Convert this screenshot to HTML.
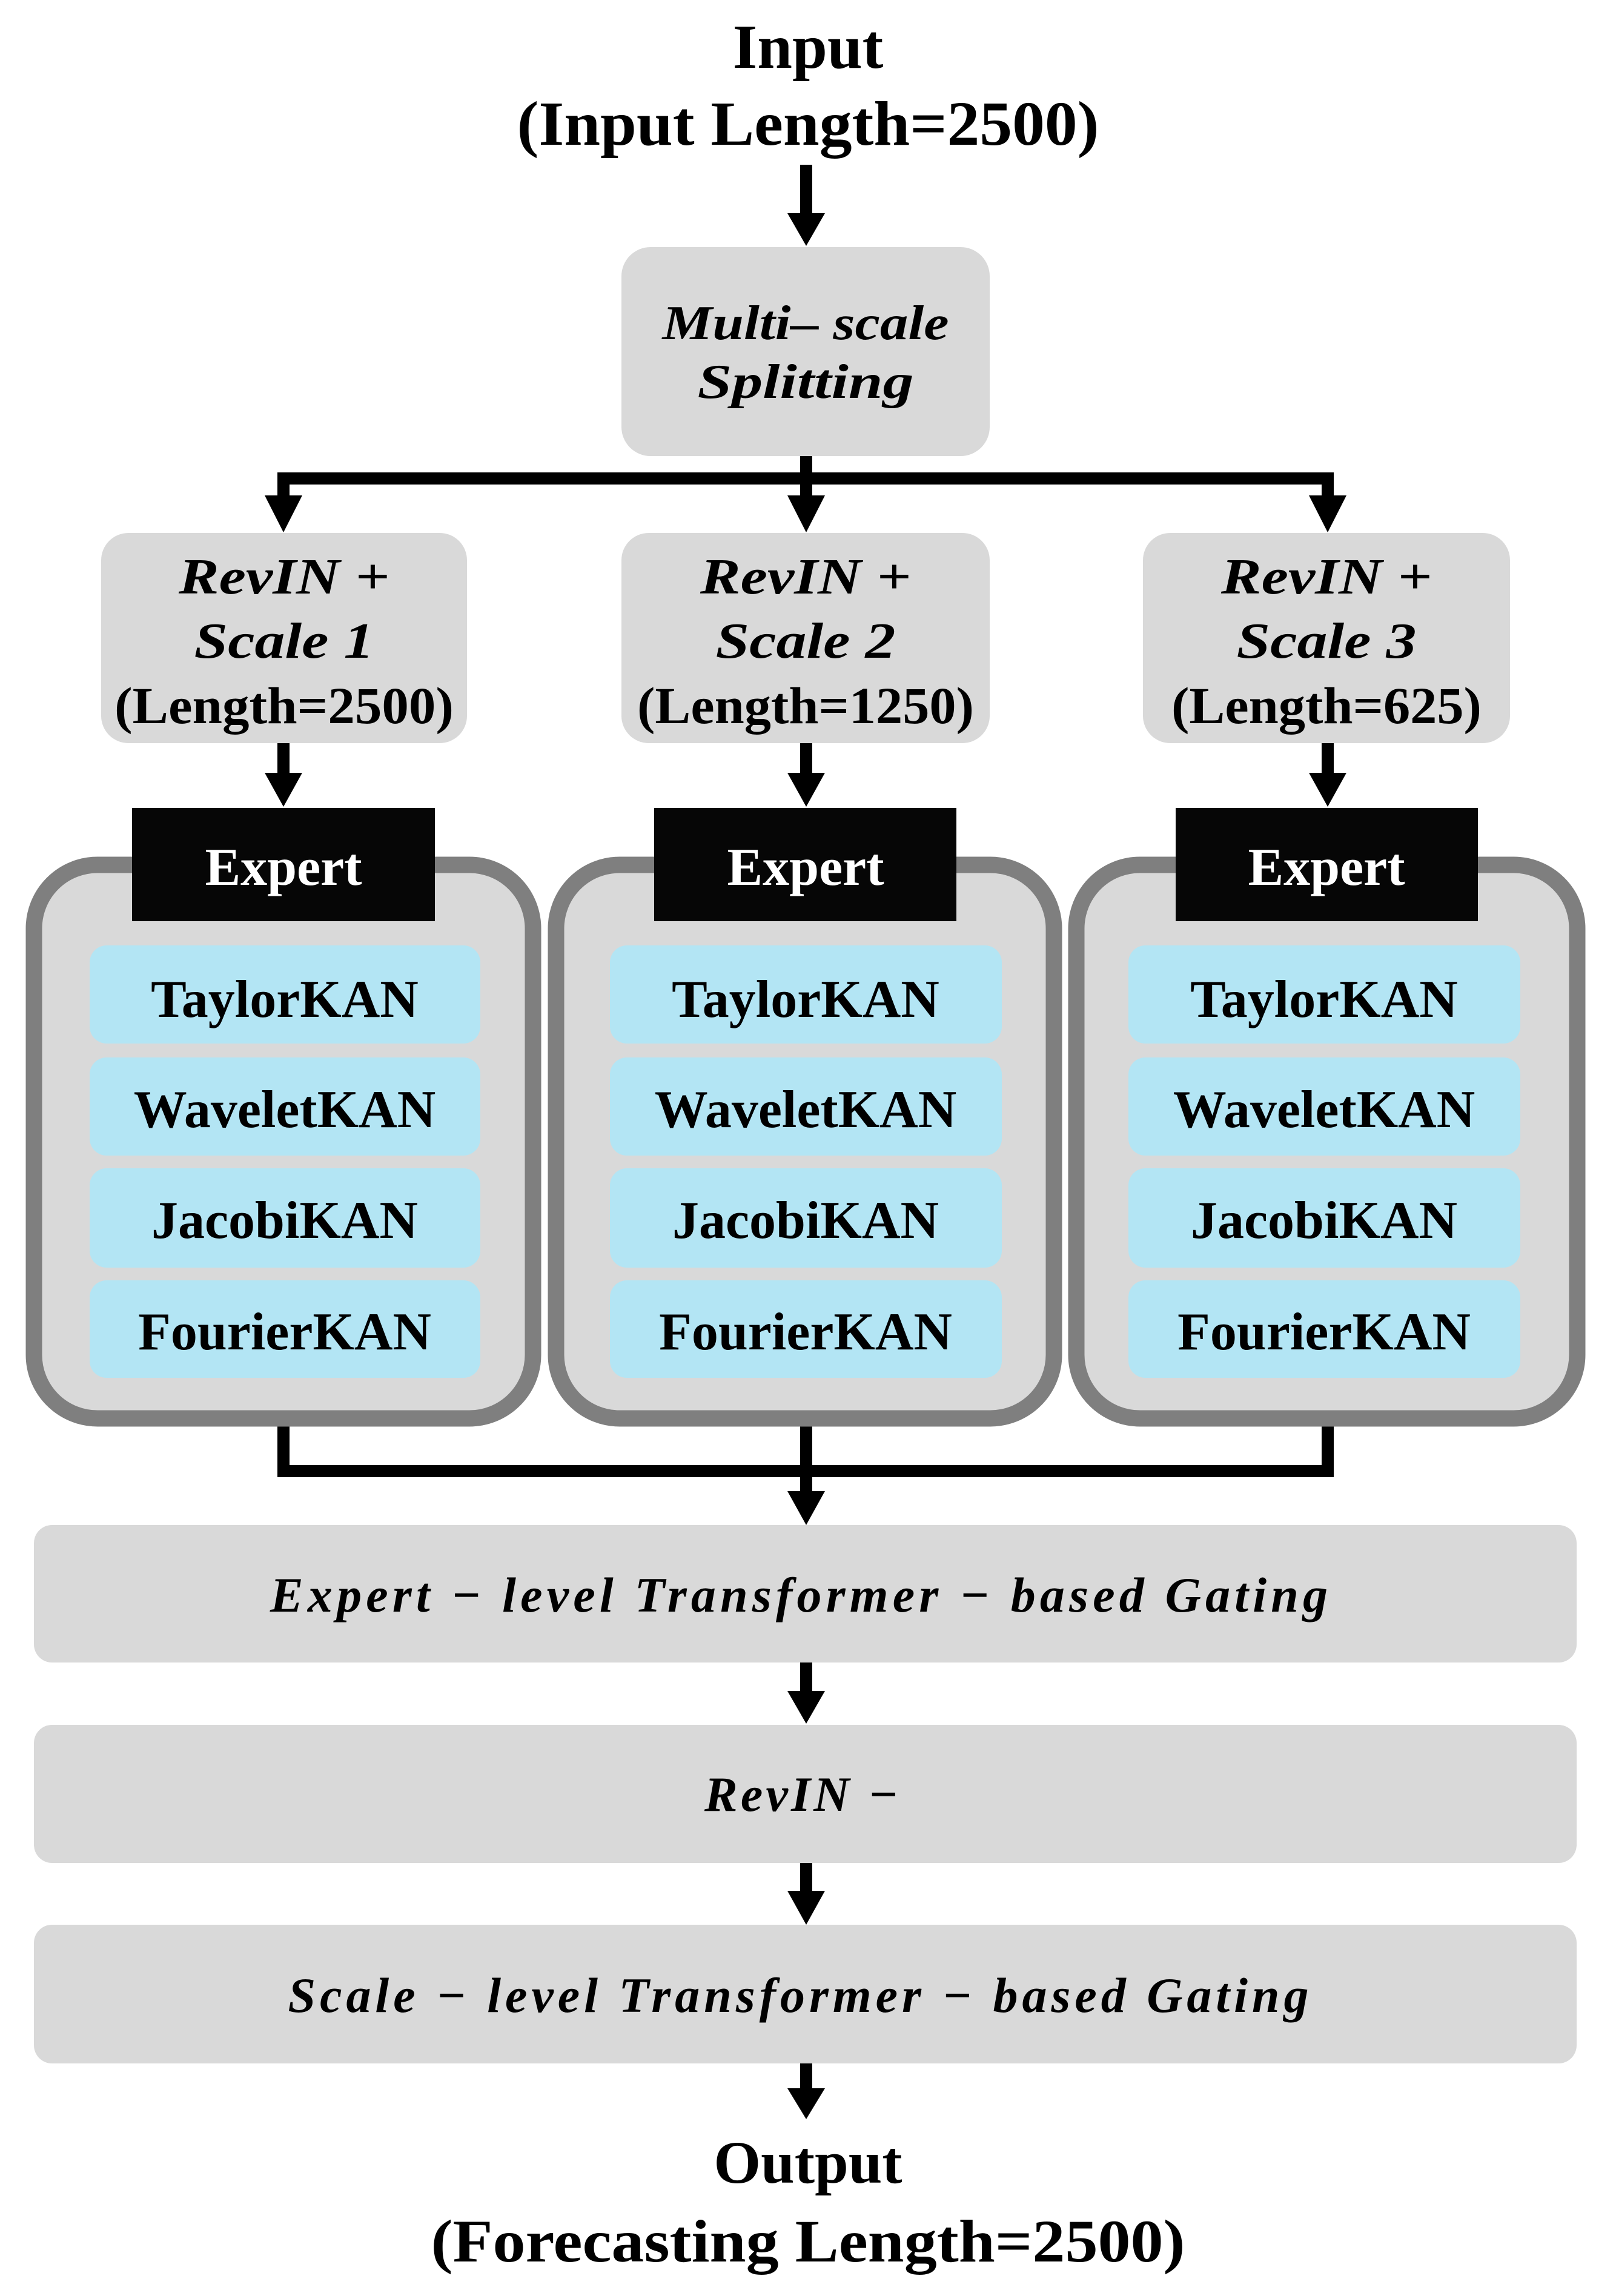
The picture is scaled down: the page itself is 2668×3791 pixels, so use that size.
<!DOCTYPE html>
<html><head><meta charset="utf-8"><style>
html,body{margin:0;padding:0;background:#fff;}
svg{display:block;}
.t{font-family:"Liberation Serif",serif;font-weight:bold;fill:#000;}
.i{font-family:"Liberation Serif",serif;font-weight:bold;font-style:italic;fill:#000;}
</style></head><body>
<svg width="2668" height="3791" viewBox="0 0 2668 3791" xmlns="http://www.w3.org/2000/svg">
<rect width="2668" height="3791" fill="#fff"/>
<g text-anchor="middle">
<text class="t" x="1334" y="112" font-size="104">Input</text>
<text class="t" x="1334" y="239" font-size="104" textLength="961" lengthAdjust="spacingAndGlyphs">(Input Length=2500)</text>
</g>
<g stroke="#000" stroke-width="20" fill="none">
<line x1="1331" y1="272" x2="1331" y2="360"/>
<line x1="1331" y1="753" x2="1331" y2="830"/>
<polyline points="468,830 468,790 2192,790 2192,830"/>
<line x1="468" y1="1227" x2="468" y2="1290"/>
<line x1="1331" y1="1227" x2="1331" y2="1290"/>
<line x1="2192" y1="1227" x2="2192" y2="1290"/>
<polyline points="468,2350 468,2429 2192,2429 2192,2350"/>
<line x1="1331" y1="2350" x2="1331" y2="2470"/>
<line x1="1331" y1="2745" x2="1331" y2="2800"/>
<line x1="1331" y1="3076" x2="1331" y2="3130"/>
<line x1="1331" y1="3407" x2="1331" y2="3455"/>
</g>
<g fill="#000">
<polygon points="1300,352 1362,352 1331,406"/>
<polygon points="437,818 499,818 468,879"/>
<polygon points="1300,818 1362,818 1331,879"/>
<polygon points="2161,818 2223,818 2192,879"/>
<polygon points="437,1276 499,1276 468,1332"/>
<polygon points="1300,1276 1362,1276 1331,1332"/>
<polygon points="2161,1276 2223,1276 2192,1332"/>
<polygon points="1300,2462 1362,2462 1331,2518"/>
<polygon points="1300,2792 1362,2792 1331,2846"/>
<polygon points="1300,3122 1362,3122 1331,3178"/>
<polygon points="1300,3448 1362,3448 1331,3499"/>
</g>
<rect x="1026" y="408" width="608" height="345" rx="48" fill="#d9d9d9"/>
<g text-anchor="middle">
<text class="i" x="1330" y="560" font-size="80" textLength="473" lengthAdjust="spacingAndGlyphs">Multi– scale</text>
<text class="i" x="1330" y="657" font-size="80" textLength="357" lengthAdjust="spacingAndGlyphs">Splitting</text>
</g>
<g>
<rect x="167" y="880" width="604" height="347" rx="45" fill="#d9d9d9"/>
<rect x="1026" y="880" width="608" height="347" rx="45" fill="#d9d9d9"/>
<rect x="1887" y="880" width="606" height="347" rx="45" fill="#d9d9d9"/>
</g>
<g text-anchor="middle">
<text class="i" x="469" y="980" font-size="84" textLength="348" lengthAdjust="spacingAndGlyphs">RevIN +</text>
<text class="i" x="469" y="1086" font-size="84" textLength="297" lengthAdjust="spacingAndGlyphs">Scale 1</text>
<text class="t" x="469" y="1194" font-size="86" textLength="560" lengthAdjust="spacingAndGlyphs">(Length=2500)</text>
<text class="i" x="1330" y="980" font-size="84" textLength="348" lengthAdjust="spacingAndGlyphs">RevIN +</text>
<text class="i" x="1330" y="1086" font-size="84" textLength="297" lengthAdjust="spacingAndGlyphs">Scale 2</text>
<text class="t" x="1330" y="1194" font-size="86" textLength="556" lengthAdjust="spacingAndGlyphs">(Length=1250)</text>
<text class="i" x="2190" y="980" font-size="84" textLength="348" lengthAdjust="spacingAndGlyphs">RevIN +</text>
<text class="i" x="2190" y="1086" font-size="84" textLength="297" lengthAdjust="spacingAndGlyphs">Scale 3</text>
<text class="t" x="2190" y="1194" font-size="86" textLength="512" lengthAdjust="spacingAndGlyphs">(Length=625)</text>
</g>
<g fill="#d9d9d9" stroke="#7f7f7f" stroke-width="27">
<rect x="56" y="1428" width="824" height="914" rx="105"/>
<rect x="918" y="1428" width="822" height="914" rx="105"/>
<rect x="1777" y="1428" width="827" height="914" rx="105"/>
</g>
<g fill="#060606">
<rect x="218" y="1334" width="500" height="187"/>
<rect x="1080" y="1334" width="499" height="187"/>
<rect x="1941" y="1334" width="499" height="187"/>
</g>
<g text-anchor="middle" fill="#fff">
<text class="t" x="468" y="1461" font-size="88" style="fill:#fff">Expert</text>
<text class="t" x="1330" y="1461" font-size="88" style="fill:#fff">Expert</text>
<text class="t" x="2190" y="1461" font-size="88" style="fill:#fff">Expert</text>
</g>
<g fill="#b3e5f4">
<rect x="148" y="1561" width="645" height="162" rx="28"/>
<rect x="148" y="1746" width="645" height="162" rx="28"/>
<rect x="148" y="1929" width="645" height="164" rx="28"/>
<rect x="148" y="2114" width="645" height="161" rx="28"/>
<rect x="1007" y="1561" width="647" height="162" rx="28"/>
<rect x="1007" y="1746" width="647" height="162" rx="28"/>
<rect x="1007" y="1929" width="647" height="164" rx="28"/>
<rect x="1007" y="2114" width="647" height="161" rx="28"/>
<rect x="1863" y="1561" width="647" height="162" rx="28"/>
<rect x="1863" y="1746" width="647" height="162" rx="28"/>
<rect x="1863" y="1929" width="647" height="164" rx="28"/>
<rect x="1863" y="2114" width="647" height="161" rx="28"/>
</g>
<g text-anchor="middle" font-size="88">
<text class="t" x="470" y="1679">TaylorKAN</text>
<text class="t" x="470" y="1861">WaveletKAN</text>
<text class="t" x="470" y="2044">JacobiKAN</text>
<text class="t" x="470" y="2228">FourierKAN</text>
<text class="t" x="1330" y="1679">TaylorKAN</text>
<text class="t" x="1330" y="1861">WaveletKAN</text>
<text class="t" x="1330" y="2044">JacobiKAN</text>
<text class="t" x="1330" y="2228">FourierKAN</text>
<text class="t" x="2186" y="1679">TaylorKAN</text>
<text class="t" x="2186" y="1861">WaveletKAN</text>
<text class="t" x="2186" y="2044">JacobiKAN</text>
<text class="t" x="2186" y="2228">FourierKAN</text>
</g>
<g fill="#d9d9d9">
<rect x="56" y="2518" width="2547" height="227" rx="30"/>
<rect x="56" y="2848" width="2547" height="228" rx="30"/>
<rect x="56" y="3178" width="2547" height="229" rx="30"/>
</g>
<g text-anchor="middle">
<text class="i" x="1319" y="2661" font-size="82" textLength="1746" lengthAdjust="spacing">Expert − level Transformer − based Gating</text>
<text class="i" x="1323" y="2990" font-size="82" textLength="320" lengthAdjust="spacing">RevIN −</text>
<text class="i" x="1318" y="3322" font-size="82" textLength="1685" lengthAdjust="spacing">Scale − level Transformer − based Gating</text>
<text class="t" x="1334" y="3604" font-size="100">Output</text>
<text class="t" x="1334" y="3734" font-size="100" textLength="1245" lengthAdjust="spacingAndGlyphs">(Forecasting Length=2500)</text>
</g>
</svg>
</body></html>
